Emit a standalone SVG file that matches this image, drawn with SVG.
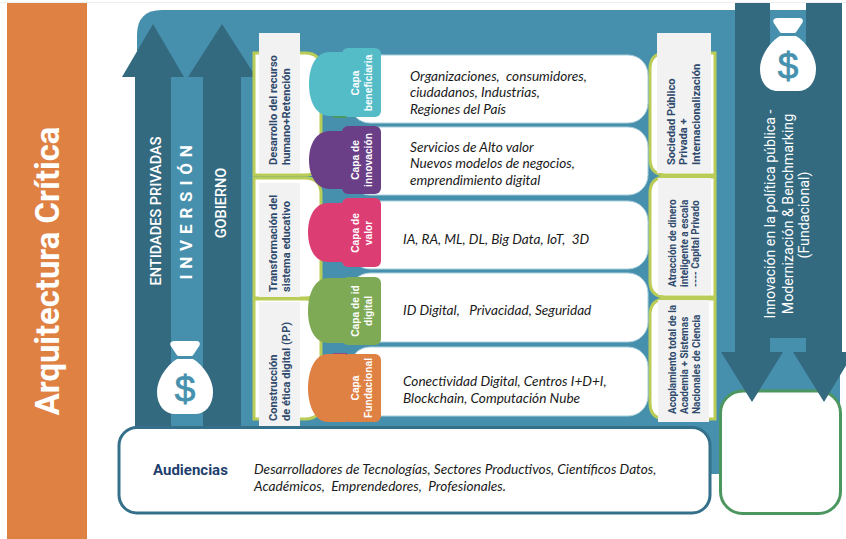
<svg xmlns="http://www.w3.org/2000/svg" width="846" height="539" viewBox="0 0 846 539">
<style>
.dark{fill:#346a80}
.panel{fill:#4790ad}
.br{fill:#fff;stroke:#b9cc57;stroke-width:3}
.row{fill:#fff;stroke:#a9cfdc;stroke-width:1}
.gr{fill:#f2f2f2}
.cap{font-family:"Liberation Sans",Arial,sans-serif;font-size:10.2px;font-weight:700;fill:#fff;text-anchor:middle}
.lab{font-family:Roboto,"Liberation Sans",sans-serif;font-size:11.1px;font-weight:700;fill:#2f4a6d}
.lab2{font-family:Roboto,"Liberation Sans",sans-serif;font-size:10px;font-weight:700;fill:#2f4a6d}
.it{font-family:Lato,"Liberation Sans",sans-serif;font-size:13.65px;font-style:italic;fill:#1a1a1a;white-space:pre}
.w{font-family:Roboto,"Liberation Sans",sans-serif;fill:#fff;text-anchor:middle}
.usd{font-family:"Liberation Sans",Arial,sans-serif;font-size:37px;font-weight:400;fill:#4691ae;text-anchor:middle;stroke:#4691ae;stroke-width:.8}
</style>
<defs>
<g id="bag">
<path d="M18 0H39Q44 0 42.500 4.500L36.500 13.500Q36 15 34 15H22Q20 15 19.500 13.500L13.500 4.500Q12 0 18 0Z" fill="#fff"/>
<path d="M20 18H36C46 24 56 38 56 51C56 65 48 73 38 73H18C8 73 0 65 0 51C0 38 10 24 20 18Z" fill="#fff"/>
</g>
</defs>
<rect width="846" height="539" fill="#fff"/>
<rect x="0" y="2" width="846" height="1" fill="#eeeeee"/>

<g id="titulo">
<rect x="7" y="3" width="80" height="536" fill="#e08144"/>
<text transform="translate(59 271) rotate(-90)" font-family="Roboto,'Liberation Sans',sans-serif" font-size="32.800" font-weight="700" fill="#fff" text-anchor="middle">Arquitectura Crítica</text>
</g>

<g id="panel">
<path class="panel" d="M162 10H840V474H137V35Q137 10 162 10Z"/>
</g>

<g id="connectors">
<path class="dark" d="M135 432V77H122L153 24L184 77H171V432Z"/>
<path class="dark" d="M203 432V77H188L222 24L256 77H241V432Z"/>
</g>

<g id="entidades"><text class="w" transform="translate(161 211) rotate(-90)" font-size="14.500" font-weight="500">ENTIDADES PRIVADAS</text></g>
<g id="inversion"><text class="w" transform="translate(192 212) rotate(-90)" font-size="17" font-weight="700" letter-spacing="0.800">I N V E R S I Ó N</text></g>
<g id="gobierno"><text class="w" transform="translate(226 203) rotate(-90)" font-size="14.500" font-weight="500">GOBIERNO</text></g>
<g id="bolsa-izq" transform="translate(157 341)"><use href="#bag"/><text class="usd" x="28" y="61">$</text></g>

<g id="brackets">
<path class="br" d="M254 53H305Q321 53 321 69V159Q321 175 305 175H254Z"/>
<path class="br" d="M254 178H305Q321 178 321 194V282Q321 298 305 298H254Z"/>
<path class="br" d="M254 299H305Q321 299 321 315V403Q321 419 305 419H254Z"/>
<path class="br" d="M715 53H666Q650 53 650 69V159Q650 175 666 175H715Z"/>
<path class="br" d="M715 177H666Q650 177 650 193V281Q650 297 666 297H715Z"/>
<path class="br" d="M715 299H666Q650 299 650 315V403Q650 419 666 419H715Z"/>
</g>

<g id="fila-1"><rect class="row" x="350" y="55" width="298" height="68" rx="20"/>
<text class="it"><tspan x="410" y="81">Organizaciones,  consumidores,</tspan><tspan x="410" y="97">ciudadanos, Industrias,</tspan><tspan x="410" y="114">Regiones del País</tspan></text></g>
<g id="fila-2"><rect class="row" x="350" y="127" width="298" height="68" rx="20"/>
<text class="it"><tspan x="410" y="152">Servicios de Alto valor</tspan><tspan x="410" y="168">Nuevos modelos de negocios,</tspan><tspan x="410" y="185">emprendimiento digital</tspan></text></g>
<g id="fila-3"><rect class="row" x="350" y="201" width="298" height="68" rx="20"/>
<text class="it" x="403" y="244">IA, RA, ML, DL, Big Data, IoT,  3D</text></g>
<g id="fila-4"><rect class="row" x="350" y="273" width="298" height="69" rx="20"/>
<text class="it" x="403" y="315">ID Digital,   Privacidad, Seguridad</text></g>
<g id="fila-5"><rect class="row" x="350" y="347" width="298" height="69" rx="20"/>
<text class="it"><tspan x="403" y="386">Conectividad Digital, Centros I+D+I,</tspan><tspan x="403" y="403">Blockchain, Computación Nube</tspan></text></g>

<g id="etiqueta-desarrollo"><rect class="gr" x="259" y="33" width="41" height="140"/>
<text class="lab" transform="translate(277 165) rotate(-90)">Desarrollo del recurso</text><text class="lab" transform="translate(290 165) rotate(-90)">humano+Retención</text></g>
<g id="etiqueta-transformacion"><rect class="gr" x="259" y="183" width="41" height="114"/>
<text class="lab" transform="translate(277 292) rotate(-90)">Transformación del</text><text class="lab" transform="translate(290 292) rotate(-90)">sistema educativo</text></g>
<g id="etiqueta-etica"><rect class="gr" x="259" y="302" width="41" height="126"/>
<text class="lab" transform="translate(277 421) rotate(-90)">Construcción</text><text class="lab" transform="translate(290 421) rotate(-90)">de ética digital (P.P)</text></g>
<g id="etiqueta-sociedad"><rect class="gr" x="657" y="33" width="54" height="140"/>
<text class="lab" transform="translate(675 165) rotate(-90)">Sociedad Público</text><text class="lab" transform="translate(687 165) rotate(-90)">Privada +</text><text class="lab" transform="translate(700 165) rotate(-90)">Internacionalización</text></g>
<g id="etiqueta-atraccion"><rect class="gr" x="658" y="178" width="53" height="117"/>
<text class="lab2" transform="translate(676 287) rotate(-90)">Atracción de dinero</text><text class="lab2" transform="translate(688 287) rotate(-90)">inteligente a escala</text><text class="lab2" transform="translate(699 287) rotate(-90)">---- Capital Privado</text></g>
<g id="etiqueta-acoplamiento"><rect class="gr" x="658" y="300" width="51" height="122"/>
<text class="lab2" transform="translate(676 414) rotate(-90)">Acoplamiento total de la</text><text class="lab2" transform="translate(688 414) rotate(-90)">Academia + Sistemas</text><text class="lab2" transform="translate(700 414) rotate(-90)">Nacionales de Ciencia</text></g>

<g id="capa-beneficiaria">
<rect x="333" y="112" width="14" height="6" fill="#4c9660"/>
<path fill="#54bcc7" d="M346 52H330C315 52 309 68 309 84C309 100 315 116 330 116H346Z"/>
<rect x="342" y="48" width="39" height="69" rx="6" fill="#54bcc7"/>
<text class="cap" transform="translate(358.500 83) rotate(-90)">Capa</text><text class="cap" transform="translate(371.500 83) rotate(-90)">beneficiaria</text></g>
<g id="capa-innovacion">
<path fill="#6b3f88" d="M346 131H330C315 131 309 146 309 160C309 174 315 189 330 189H346Z"/>
<rect x="342" y="126" width="39" height="68" rx="6" fill="#6b3f88"/>
<text class="cap" transform="translate(358.500 160) rotate(-90)">Capa  de</text><text class="cap" transform="translate(371.500 160) rotate(-90)">innovación</text></g>
<g id="capa-valor">
<path fill="#dc3d73" d="M346 203H328C314 203 308 218 308 232C308 247 314 262 328 262H346Z"/>
<rect x="342" y="198" width="39" height="69" rx="6" fill="#dc3d73"/>
<text class="cap" transform="translate(358.500 233) rotate(-90)">Capa de</text><text class="cap" transform="translate(371.500 233) rotate(-90)">valor</text></g>
<g id="capa-id">
<path fill="#7eaa55" d="M346 278H328C314 278 308 295 308 311C308 327 314 343 328 343H346Z"/>
<rect x="342" y="277" width="39" height="68" rx="6" fill="#7eaa55"/>
<text class="cap" transform="translate(358.500 311) rotate(-90)">Capa de id</text><text class="cap" transform="translate(371.500 311) rotate(-90)">digital</text></g>
<g id="capa-fundacional">
<rect x="333" y="353" width="14" height="6" fill="#8f4a80"/>
<path fill="#e08144" d="M346 354H328C314 354 308 372 308 388C308 404 314 422 328 422H346Z"/>
<rect x="343" y="354" width="38" height="68" rx="6" fill="#e08144"/>
<text class="cap" transform="translate(358.500 388) rotate(-90)">Capa</text><text class="cap" transform="translate(371.500 388) rotate(-90)">Fundacional</text></g>

<g id="audiencias">
<rect x="119" y="427.500" width="591" height="85.500" rx="18" fill="#fff" stroke="#34708a" stroke-width="3"/>
<text x="153" y="475" font-family="Roboto,'Liberation Sans',sans-serif" font-size="15" font-weight="700" fill="#1f3f6f">Audiencias</text>
<text class="it"><tspan x="254" y="474">Desarrolladores de Tecnologías, Sectores Productivos, Científicos Datos,</tspan><tspan x="254" y="491">Académicos,  Emprendedores,  Profesionales.</tspan></text>
</g>

<g id="caja-verde"><rect x="720.500" y="391" width="120" height="122.500" rx="22" fill="#fff" stroke="#4c9660" stroke-width="3"/></g>

<g id="flecha-politica">
<rect class="panel" x="770" y="10" width="36" height="85"/>
<path class="dark" d="M735 3H770V90H806V3H842V352H846V365.500L824 402L793 352H806V338H770V352H783L752 402L721 352H735Z"/>
<text class="w" transform="translate(775 214) rotate(-90)" font-size="14.200">Innovación en la política pública -</text>
<text class="w" transform="translate(793 214) rotate(-90)" font-size="14.200">Modernización &amp; Benchmarking</text>
<text class="w" transform="translate(809 215) rotate(-90)" font-size="14.200">(Fundacional)</text>
</g>
<g id="bolsa-der" transform="translate(760 18)"><use href="#bag"/><text class="usd" x="28" y="61">$</text></g>
</svg>
